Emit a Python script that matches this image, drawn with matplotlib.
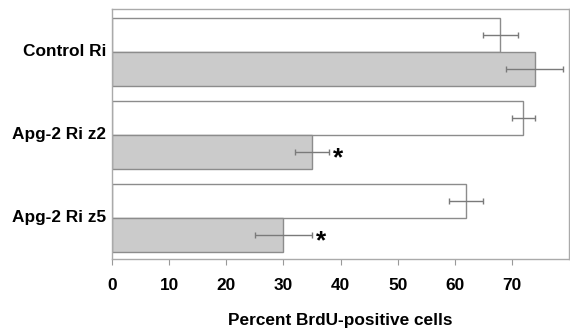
import matplotlib
matplotlib.use("Agg")
import matplotlib.pyplot as plt
import numpy as np

plt.rcParams['font.family'] = ['Liberation Sans', 'DejaVu Sans']

categories = ["Control Ri", "Apg-2 Ri z2", "Apg-2 Ri z5"]
white_vals = [68, 72, 62]
white_err = [3, 2, 3]
gray_vals = [74, 35, 30]
gray_err = [5, 3, 5]
significant = [False, True, True]
xticks = [0, 10, 20, 30, 40, 50, 60, 70]

fig = plt.figure(figsize=(5.7, 3.28), dpi=100)
ax = fig.add_axes([0.1965, 0.2104, 0.8018, 0.762])

y = np.arange(len(categories))
h = 0.41
ecolor = '#7a7a7a'
ax.barh(y - h / 2, white_vals, height=h, color='white', edgecolor='#8c8c8c', linewidth=1.0, zorder=2)
ax.barh(y + h / 2, gray_vals, height=h, color='#cbcbcb', edgecolor='#8c8c8c', linewidth=1.0, zorder=2)
ax.errorbar(white_vals, y - h / 2, xerr=white_err, fmt='none', ecolor=ecolor, elinewidth=1.0, capsize=2.5, capthick=1.0, zorder=3)
ax.errorbar(gray_vals, y + h / 2, xerr=gray_err, fmt='none', ecolor=ecolor, elinewidth=1.0, capsize=2.5, capthick=1.0, zorder=3)

for i, (v, e, s) in enumerate(zip(gray_vals, gray_err, significant)):
    if s:
        ax.text(v + e + 0.7, y[i] + h / 2 + 0.07, "*", fontsize=19, fontweight='bold',
                ha='left', va='center', color='black')

ax.set_xlim(0, 80)
ax.set_ylim(2.494, -0.518)
ax.set_xticks(xticks)
ax.set_xticklabels([str(t) for t in xticks], fontsize=12.4, fontweight='bold')
ax.set_yticks(y - 0.03)
ax.set_yticklabels(categories, fontsize=12.4, fontweight='bold')
ax.tick_params(axis='y', length=0, pad=4)
ax.tick_params(axis='x', length=4, color='#999999', pad=10)
ax.set_xlabel("Percent BrdU-positive cells", fontsize=12.4, fontweight='bold', labelpad=14)
for sp in ax.spines.values():
    sp.set_color('#aaaaaa')
    sp.set_linewidth(1.0)

fig.savefig("out.png", dpi=100)
